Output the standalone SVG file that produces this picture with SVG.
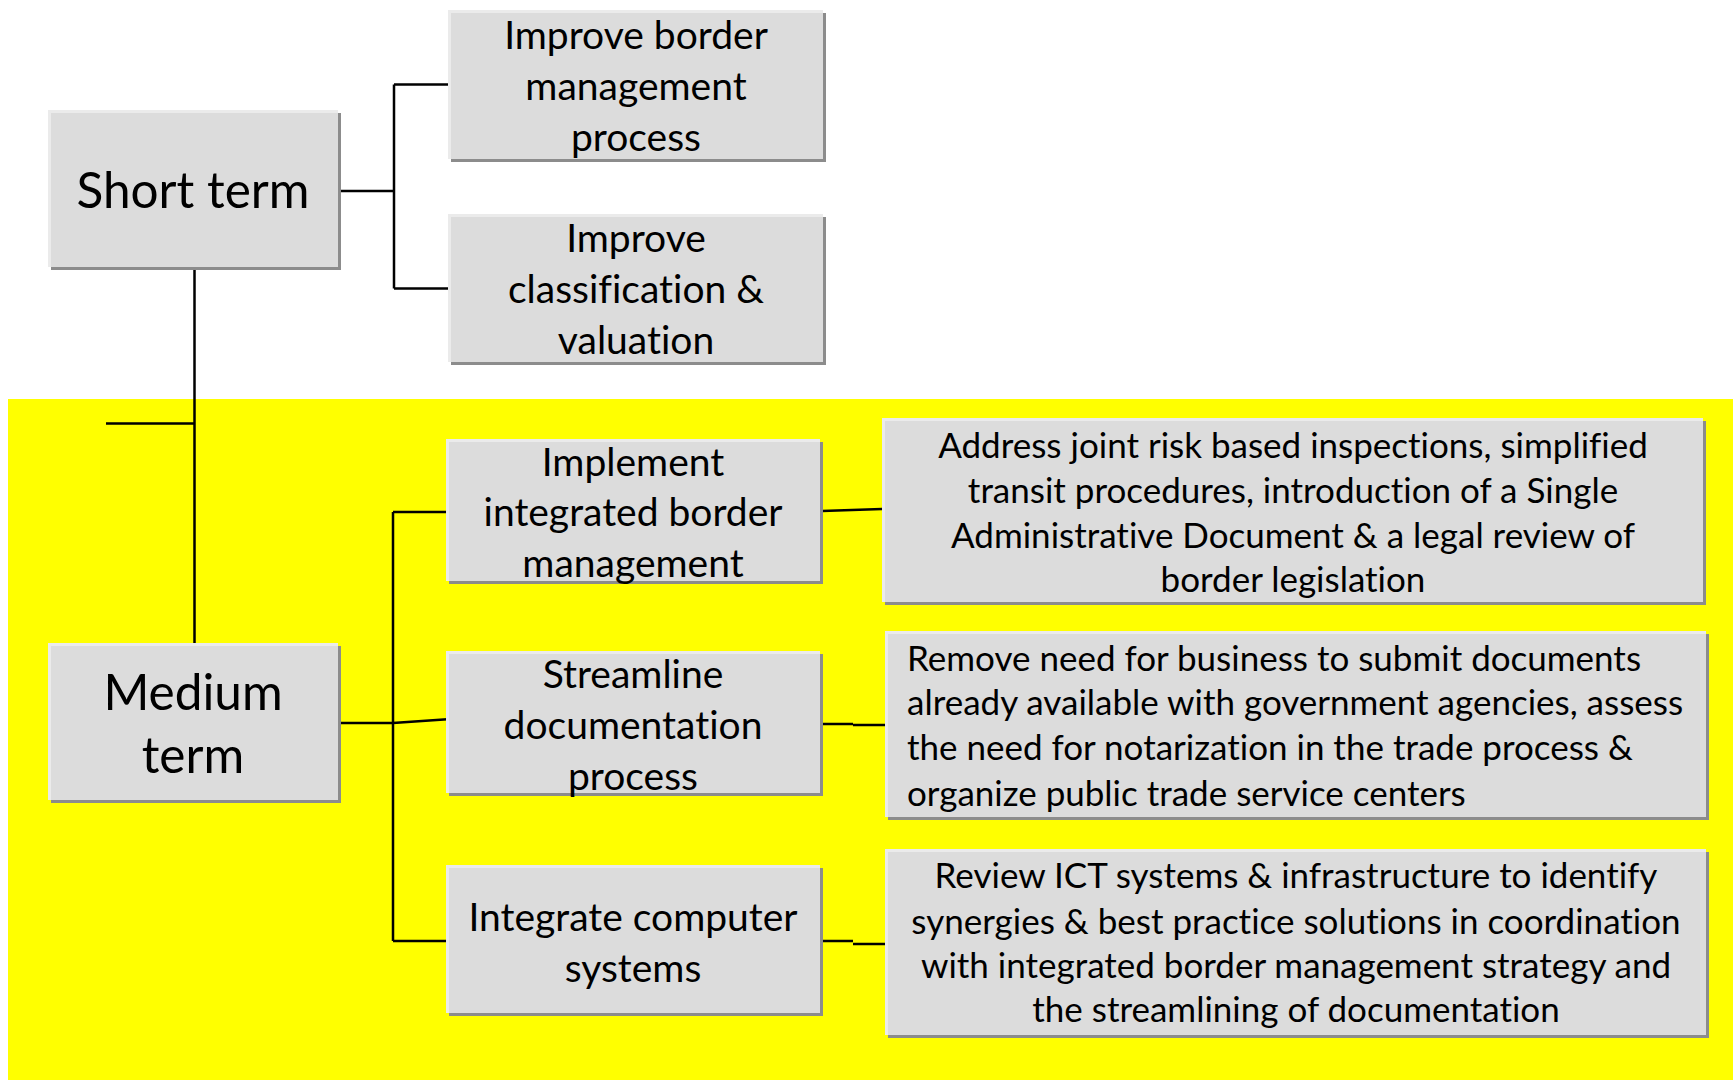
<svg xmlns="http://www.w3.org/2000/svg" width="1733" height="1081" viewBox="0 0 1733 1081">
<style>
.sh{fill:#8c8c8c}
.bx{fill:#ebebeb}
.in{fill:#dcdcdc}
text{font-family:Lato,"Open Sans","DejaVu Sans",sans-serif;fill:#000;text-anchor:middle;font-variant-ligatures:none;font-feature-settings:"liga" 0}
.big{font-size:49.5px}
.mid{font-size:39px}
.sm{font-size:35px}
.left{text-anchor:start}
.cn{stroke:#000;stroke-width:2.5;fill:none}
</style>
<rect x="0" y="0" width="1733" height="1081" fill="#fff"/>
<rect x="8" y="399" width="1725" height="681" fill="#ffff00"/>
<g id="connectors">
<path class="cn" d="M338 191H394M394 84.5V288.5M394 84.5H448M394 288.5H448"/>
<path class="cn" d="M194.5 267V644M106 423.5H194.5"/>
<path class="cn" d="M338 723H393M393 512V941M393 512H446M393 723L451 719M393 941H446"/>
<path class="cn" d="M822 511L882 509M822 724H853M853 725H887M822 941H853M853 944H887"/>
</g>
<g id="short-term">
<rect class="sh" x="51" y="113" width="290" height="157"/>
<rect class="bx" x="48" y="110" width="290" height="157"/>
<rect class="in" x="51" y="113" width="287" height="154"/>
<text class="big" x="193" y="208">Short term</text>
</g>
<g id="medium-term">
<rect class="sh" x="51" y="646" width="290" height="157"/>
<rect class="bx" x="48" y="643" width="290" height="157"/>
<rect class="in" x="51" y="646" width="287" height="154"/>
<text class="big" x="193" y="710">Medium</text>
<text class="big" x="193" y="773">term</text>
</g>
<g id="improve-border">
<rect class="sh" x="451" y="13" width="375" height="149"/>
<rect class="bx" x="448" y="10" width="375" height="149"/>
<rect class="in" x="451" y="13" width="372" height="146"/>
<text class="mid" x="636" y="49">Improve border</text>
<text class="mid" x="636" y="100">management</text>
<text class="mid" x="636" y="150.5">process</text>
</g>
<g id="improve-classification">
<rect class="sh" x="451" y="217" width="375" height="148"/>
<rect class="bx" x="448" y="214" width="375" height="148"/>
<rect class="in" x="451" y="217" width="372" height="145"/>
<text class="mid" x="636" y="252">Improve</text>
<text class="mid" x="636" y="303">classification &amp;</text>
<text class="mid" x="636" y="354">valuation</text>
</g>
<g id="implement-ibm">
<rect class="sh" x="449" y="442" width="374" height="142"/>
<rect class="bx" x="446" y="439" width="374" height="142"/>
<rect class="in" x="449" y="442" width="371" height="139"/>
<text class="mid" x="633" y="475.5">Implement</text>
<text class="mid" x="633" y="526">integrated border</text>
<text class="mid" x="633" y="577">management</text>
</g>
<g id="streamline">
<rect class="sh" x="449" y="654" width="374" height="142"/>
<rect class="bx" x="446" y="651" width="374" height="142"/>
<rect class="in" x="449" y="654" width="371" height="139"/>
<text class="mid" x="633" y="688">Streamline</text>
<text class="mid" x="633" y="738.5">documentation</text>
<text class="mid" x="633" y="790">process</text>
</g>
<g id="integrate-systems">
<rect class="sh" x="449" y="868" width="374" height="148"/>
<rect class="bx" x="446" y="865" width="374" height="148"/>
<rect class="in" x="449" y="868" width="371" height="145"/>
<text class="mid" x="633" y="931">Integrate computer</text>
<text class="mid" x="633" y="982">systems</text>
</g>
<g id="detail-ibm">
<rect class="sh" x="885" y="421" width="821" height="184"/>
<rect class="bx" x="882" y="418" width="821" height="184"/>
<rect class="in" x="885" y="421" width="818" height="181"/>
<text class="sm" x="1293" y="457.5">Address joint risk based inspections, simplified</text>
<text class="sm" x="1293" y="503">transit procedures, introduction of a Single</text>
<text class="sm" x="1293" y="548">Administrative Document &amp; a legal review of</text>
<text class="sm" x="1293" y="592">border legislation</text>
</g>
<g id="detail-docs">
<rect class="sh" x="888" y="634" width="821" height="186"/>
<rect class="bx" x="885" y="631" width="821" height="186"/>
<rect class="in" x="888" y="634" width="818" height="183"/>
<text class="sm left" x="907" y="671">Remove need for business to submit documents</text>
<text class="sm left" x="907" y="715">already available with government agencies, assess</text>
<text class="sm left" x="907" y="760">the need for notarization in the trade process &amp;</text>
<text class="sm left" x="907" y="805.5">organize public trade service centers</text>
</g>
<g id="detail-ict">
<rect class="sh" x="888" y="852" width="821" height="186"/>
<rect class="bx" x="885" y="849" width="821" height="186"/>
<rect class="in" x="888" y="852" width="818" height="183"/>
<text class="sm" x="1296" y="888">Review ICT systems &amp; infrastructure to identify</text>
<text class="sm" x="1296" y="934">synergies &amp; best practice solutions in coordination</text>
<text class="sm" x="1296" y="978">with integrated border management strategy and</text>
<text class="sm" x="1296" y="1022">the streamlining of documentation</text>
</g>
</svg>
